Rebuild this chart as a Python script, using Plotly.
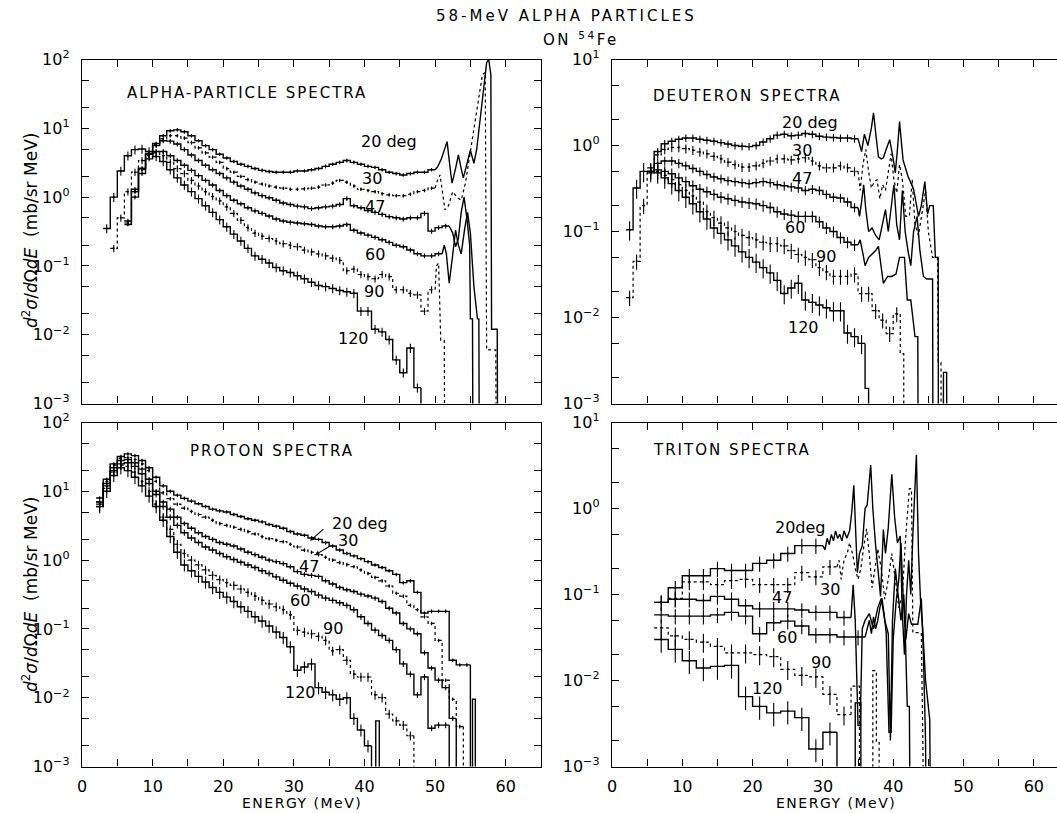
import numpy as np
import plotly.graph_objects as go

# ------------------------------------------------------------------
# DATA  (values in mb/(sr MeV); histogram = first bin edge, bin width, values;
#        *_tail_e / *_tail_v = high-resolution part drawn as a line; 1e-5 = zero)
# ------------------------------------------------------------------
ANGLES = ["20", "30", "47", "60", "90", "120"]
DOTTED = ["30", "90"]
X_TICKS = [0, 10, 20, 30, 40, 50, 60]
Y_TICKS_LEFT = [1e-3, 1e-2, 1e-1, 1e0, 1e1, 1e2]
Y_TEXT_LEFT = ["10<sup>−3</sup>", "10<sup>−2</sup>", "10<sup>−1</sup>", "10<sup>0</sup>",
               "10<sup>1</sup>", "10<sup>2</sup>"]
Y_TICKS_RIGHT = [1e-3, 1e-2, 1e-1, 1e0, 1e1]
Y_TEXT_RIGHT = ["10<sup>−3</sup>", "10<sup>−2</sup>", "10<sup>−1</sup>", "10<sup>0</sup>",
                "10<sup>1</sup>"]

# ---- ALPHA-PARTICLE SPECTRA ----
alpha_20_e0, alpha_20_w = 6, 1
alpha_20 = [0.4, 1.2, 2.6, 4.3, 6.0, 7.8, 9.2, 9.5, 8.9, 7.8, 6.6, 5.6, 4.9, 4.2, 3.7, 3.3,
            3.0, 2.8, 2.6, 2.45, 2.35, 2.3, 2.3, 2.3, 2.4, 2.4, 2.5, 2.6, 2.8, 3.0, 3.2, 3.4,
            3.2, 3.0, 2.8, 2.7, 2.5, 2.3, 2.2, 2.1, 2.2, 2.3, 2.3, 2.5]
alpha_20_tail_e = [50.4, 50.9, 51.3, 51.7, 52.1, 52.4, 52.9, 53.3, 53.7, 54.0, 54.5, 55.0, 55.5,
                   55.9, 56.4, 56.9, 57.3, 57.6, 57.9, 58.0, 58.8, 58.9]
alpha_20_tail_v = [2.8, 3.6, 5.0, 6.4, 2.8, 1.6, 2.6, 4.1, 2.6, 1.9, 3.0, 4.8, 3.1,
                   5.0, 14, 45, 90, 100, 60, 0.012, 0.012, 1e-5]

alpha_30_e0, alpha_30_w = 6, 1
alpha_30 = [0.42, 1.2, 2.5, 4.0, 5.8, 7.0, 7.8, 7.8, 7.2, 6.2, 5.2, 4.4, 3.8, 3.2, 2.6, 2.3,
            2.0, 1.8, 1.65, 1.55, 1.45, 1.4, 1.35, 1.3, 1.3, 1.32, 1.35, 1.4, 1.5, 1.6, 1.75,
            1.65, 1.45, 1.3, 1.25, 1.2, 1.12, 1.08, 1.05, 1.05, 1.1, 1.2, 1.25, 1.35]
alpha_30_tail_e = [50.3, 50.7, 51.0, 51.4, 51.9, 52.5, 53.1, 53.7, 54.3, 54.9, 55.5, 56.1, 56.7,
                   57.1, 57.3, 57.6, 58.6, 58.7]
alpha_30_tail_v = [1.7, 2.1, 1.3, 0.65, 0.75, 1.2, 1.0, 0.9, 1.6, 4.0, 10, 25, 60,
                   65, 0.006, 0.006, 0.006, 1e-5]

alpha_47_e0, alpha_47_w = 6, 1
alpha_47 = [0.45, 1.3, 2.6, 4.2, 5.6, 6.6, 6.5, 5.9, 4.9, 4.1, 3.4, 2.9, 2.5, 2.2, 1.9, 1.65,
            1.45, 1.3, 1.15, 1.05, 0.98, 0.9, 0.82, 0.78, 0.74, 0.72, 0.68, 0.7, 0.72, 0.74,
            0.78, 0.95, 0.75, 0.7, 0.64, 0.6, 0.56, 0.52, 0.5, 0.48, 0.5, 0.5, 0.58, 0.32,
            0.36, 0.38]
alpha_47_tail_e = [52.5, 52.9, 53.3, 53.7, 54.1, 54.5, 54.9, 55.0, 55.3, 55.4]
alpha_47_tail_v = [0.3, 0.19, 0.25, 0.6, 1.0, 0.5, 0.2, 0.017, 0.017, 1e-5]

alpha_60_e0, alpha_60_w = 7, 1
alpha_60 = [1.0, 2.2, 3.6, 4.6, 4.6, 4.0, 3.4, 2.9, 2.45, 2.05, 1.75, 1.5, 1.25, 1.05, 0.9,
            0.8, 0.7, 0.63, 0.58, 0.53, 0.48, 0.45, 0.43, 0.42, 0.41, 0.4, 0.38, 0.37, 0.37,
            0.38, 0.4, 0.33, 0.3, 0.28, 0.26, 0.24, 0.22, 0.2, 0.19, 0.17, 0.15, 0.14, 0.14,
            0.15]
alpha_60_tail_e = [51.3, 51.6, 52.0, 52.4, 52.9, 53.3, 53.7, 54.2, 54.6, 55.0, 55.5, 56.0,
                   56.2, 56.3]
alpha_60_tail_v = [0.2, 0.15, 0.056, 0.12, 0.33, 0.2, 0.15, 0.35, 0.6, 0.3, 0.05, 0.017,
                   0.017, 1e-5]

alpha_90_e0, alpha_90_w = 4, 1
alpha_90 = [0.18, 0.5, 1.2, 2.3, 3.4, 4.2, 4.4, 4.0, 3.2, 2.6, 2.2, 1.75, 1.45, 1.2, 1.02,
            0.88, 0.72, 0.58, 0.46, 0.36, 0.3, 0.27, 0.25, 0.23, 0.21, 0.2, 0.19, 0.17, 0.16,
            0.15, 0.14, 0.13, 0.12, 0.085, 0.09, 0.075, 0.07, 0.065, 0.075, 0.07, 0.045,
            0.045, 0.04, 0.038, 0.022, 0.045]
alpha_90_tail_e = [50.2, 50.5, 50.8, 51.3, 51.4]
alpha_90_tail_v = [0.1, 0.11, 0.0083, 0.0083, 1e-5]

alpha_120_e0, alpha_120_w = 3, 1
alpha_120 = [0.35, 1.0, 2.4, 4.0, 4.9, 5.0, 4.6, 3.9, 3.3, 2.5, 1.9, 1.5, 1.2, 0.95, 0.75,
             0.6, 0.47, 0.37, 0.29, 0.23, 0.18, 0.14, 0.125, 0.11, 0.095, 0.085, 0.08, 0.072,
             0.065, 0.058, 0.052, 0.05, 0.047, 0.044, 0.042, 0.04, 0.022, 0.022, 0.012,
             0.011, 0.0085, 0.0043, 0.0028, 0.0064, 0.0017]
alpha_120_tail_e = []
alpha_120_tail_v = []

# ---- DEUTERON SPECTRA ----
deut_20_e0, deut_20_w = 5, 1
deut_20 = [0.55, 0.85, 1.05, 1.12, 1.18, 1.22, 1.22, 1.18, 1.15, 1.12, 1.08, 1.04, 1.0, 0.98,
           0.97, 1.0, 1.1, 1.2, 1.32, 1.35, 1.3, 1.32, 1.38, 1.35, 1.28, 1.25, 1.24, 1.22,
           1.22, 1.2]
deut_20_tail_e = [35.5, 35.9, 36.4, 36.9, 37.2, 37.6, 37.9, 38.3, 38.6, 39.0, 39.5, 40.0, 40.3,
                  40.6, 40.9, 41.4, 42.1, 42.9, 43.6, 44.0, 44.5, 44.9, 45.2, 45.7, 46.0, 46.4,
                  46.45, 47.1, 47.15, 47.6, 47.65]
deut_20_tail_v = [0.85, 1.35, 1.0, 1.6, 2.4, 1.2, 0.74, 0.7, 0.72, 0.9, 1.17, 0.7, 0.48,
                  0.9, 1.9, 0.68, 0.44, 0.31, 0.15, 0.2, 0.38, 0.16, 0.2, 0.2, 0.05, 0.05,
                  1e-5, 1e-5, 0.0023, 0.0023, 1e-5]

deut_30_e0, deut_30_w = 5, 1
deut_30 = [0.5, 0.78, 0.9, 0.95, 0.95, 0.92, 0.88, 0.84, 0.8, 0.75, 0.7, 0.64, 0.6, 0.56,
           0.56, 0.58, 0.62, 0.66, 0.7, 0.7, 0.68, 0.7, 0.72, 0.66, 0.58, 0.55, 0.55, 0.58,
           0.55, 0.5]
deut_30_tail_e = [35.3, 35.7, 36.1, 36.5, 36.9, 37.3, 37.7, 38.1, 38.5, 38.9, 39.3, 39.7, 40.1,
                  40.5, 40.9, 41.3, 41.8, 42.3, 42.7, 43.1, 43.6, 44.2, 44.6, 45.0, 45.6, 46.3,
                  46.4, 46.8, 46.85]
deut_30_tail_v = [0.3, 0.6, 0.9, 0.5, 0.32, 0.38, 0.4, 0.24, 0.35, 0.3, 0.5, 0.8, 0.4,
                  0.28, 0.6, 0.4, 0.15, 0.15, 0.4, 0.12, 0.09, 0.2, 0.3, 0.1, 0.05, 0.05,
                  0.003, 0.003, 1e-5]

deut_47_e0, deut_47_w = 5, 1
deut_47 = [0.5, 0.62, 0.66, 0.66, 0.62, 0.58, 0.54, 0.5, 0.46, 0.43, 0.41, 0.39, 0.38, 0.37,
           0.36, 0.37, 0.38, 0.37, 0.35, 0.34, 0.33, 0.32, 0.3, 0.31, 0.3, 0.27, 0.25, 0.245,
           0.22, 0.19]
deut_47_tail_e = [35.2, 35.5, 35.8, 36.1, 36.5, 37.0, 37.5, 38.0, 38.5, 38.9, 39.3, 39.7, 40.1,
                  40.5, 40.9, 41.3, 41.7, 42.1, 42.5, 42.9, 43.4, 43.8, 44.3, 44.8, 45.2, 45.6,
                  45.7]
deut_47_tail_v = [0.15, 0.22, 0.35, 0.18, 0.1, 0.11, 0.09, 0.08, 0.12, 0.18, 0.1, 0.2, 0.35,
                  0.12, 0.08, 0.3, 0.1, 0.06, 0.04, 0.1, 0.15, 0.06, 0.03, 0.028, 0.028, 0.028,
                  1e-5]

deut_60_e0, deut_60_w = 5, 1
deut_60 = [0.48, 0.52, 0.5, 0.47, 0.42, 0.38, 0.34, 0.31, 0.29, 0.27, 0.25, 0.24, 0.23, 0.22,
           0.215, 0.21, 0.2, 0.19, 0.17, 0.16, 0.155, 0.15, 0.15, 0.15, 0.13, 0.11, 0.1, 0.085,
           0.075, 0.07]
deut_60_tail_e = [35.3, 35.7, 36.0, 36.5, 37.0, 37.5, 37.9, 38.3, 38.6, 39.2, 39.8, 40.4, 40.9,
                  41.6, 42.0, 42.5, 43.1, 43.5, 43.6]
deut_60_tail_v = [0.08, 0.055, 0.04, 0.05, 0.055, 0.06, 0.067, 0.04, 0.025, 0.03, 0.03, 0.032,
                  0.05, 0.05, 0.016, 0.016, 0.006, 0.006, 1e-5]

deut_90_e0, deut_90_w = 2, 1
deut_90 = [0.017, 0.045, 0.2, 0.5, 0.5, 0.45, 0.4, 0.35, 0.3, 0.26, 0.22, 0.17, 0.145, 0.125,
           0.11, 0.1, 0.09, 0.085, 0.08, 0.075, 0.072, 0.072, 0.068, 0.06, 0.054, 0.05, 0.047,
           0.038, 0.034, 0.03, 0.03, 0.03, 0.032, 0.019, 0.019, 0.012, 0.0093, 0.0065, 0.011]
deut_90_tail_e = [41.0, 41.5, 41.5]
deut_90_tail_v = [0.0038, 0.0038, 1e-5]

deut_120_e0, deut_120_w = 2, 1
deut_120 = [0.105, 0.32, 0.5, 0.5, 0.48, 0.42, 0.36, 0.3, 0.25, 0.21, 0.17, 0.14, 0.11, 0.095,
            0.08, 0.068, 0.058, 0.05, 0.044, 0.038, 0.033, 0.027, 0.019, 0.022, 0.025, 0.016,
            0.015, 0.014, 0.013, 0.012, 0.012, 0.0066, 0.006, 0.005]
deut_120_tail_e = [36.0, 36.5, 36.5]
deut_120_tail_v = [0.0015, 0.0015, 1e-5]

# ---- PROTON SPECTRA ----
prot_20_e0, prot_20_w = 2, 1
prot_20 = [8, 15, 25, 32, 35, 33, 28, 22, 16, 12, 10, 8.8, 7.9, 7.2, 6.6, 6.0, 5.5, 5.2, 5.0,
           4.6, 4.3, 4.0, 3.8, 3.6, 3.3, 3.1, 2.9, 2.6, 2.4, 2.3, 2.1, 2.0, 1.8, 1.6, 1.4, 1.25,
           1.15, 1.05, 0.95, 0.85, 0.78, 0.7, 0.62, 0.47, 0.5, 0.34, 0.17, 0.18, 0.18, 0.18,
           0.035, 0.03, 0.03]
prot_20_tail_e = [55.0, 55.3, 55.3, 55.7, 55.7]
prot_20_tail_v = [1e-5, 1e-5, 0.0095, 0.0095, 1e-5]

prot_30_e0, prot_30_w = 2, 1
prot_30 = [7, 14, 24, 30, 31, 29, 25, 20, 14, 9.5, 7.8, 6.5, 5.7, 5.1, 4.6, 4.2, 3.8, 3.4, 3.2,
           3.0, 2.8, 2.6, 2.4, 2.2, 2.05, 1.95, 1.85, 1.7, 1.55, 1.4, 1.3, 1.2, 1.1, 1.0, 0.92,
           0.86, 0.8, 0.72, 0.64, 0.56, 0.5, 0.42, 0.33, 0.3, 0.22, 0.19, 0.15, 0.12, 0.068,
           0.018, 0.0095, 0.0038]
prot_30_tail_e = []
prot_30_tail_v = []

prot_47_e0, prot_47_w = 2, 1
prot_47 = [7, 13, 22, 28, 29, 26, 21, 15, 10, 7, 5.5, 4.2, 3.4, 2.9, 2.5, 2.2, 2.0, 1.8, 1.7,
           1.6, 1.45, 1.3, 1.2, 1.1, 1.0, 0.95, 0.89, 0.8, 0.68, 0.62, 0.6, 0.58, 0.5, 0.45,
           0.4, 0.37, 0.35, 0.32, 0.3, 0.28, 0.25, 0.2, 0.17, 0.12, 0.1, 0.085, 0.045, 0.027,
           0.018, 0.014, 0.005]
prot_47_tail_e = []
prot_47_tail_v = []

prot_60_e0, prot_60_w = 2, 1
prot_60 = [6.5, 12, 20, 25, 26, 23, 18, 13, 9, 6, 4.2, 3.2, 2.5, 2.1, 1.8, 1.55, 1.4, 1.25,
           1.12, 1.02, 0.93, 0.85, 0.78, 0.7, 0.64, 0.57, 0.51, 0.46, 0.42, 0.38, 0.35, 0.31,
           0.28, 0.26, 0.24, 0.22, 0.19, 0.15, 0.12, 0.096, 0.08, 0.068, 0.05, 0.031, 0.022,
           0.011, 0.02, 0.0036, 0.004, 0.004]
prot_60_tail_e = []
prot_60_tail_v = []

prot_90_e0, prot_90_w = 2, 1
prot_90 = [6, 11, 19, 24, 23, 19, 14, 10, 6.5, 4.2, 2.8, 1.7, 1.25, 1.0, 0.85, 0.72, 0.6, 0.52,
           0.47, 0.43, 0.38, 0.34, 0.3, 0.26, 0.23, 0.21, 0.19, 0.16, 0.095, 0.09, 0.085,
           0.078, 0.068, 0.048, 0.05, 0.035, 0.022, 0.02, 0.02, 0.011, 0.01, 0.0058, 0.0046,
           0.004, 0.0028]
prot_90_tail_e = []
prot_90_tail_v = []

prot_120_e0, prot_120_w = 2, 1
prot_120 = [6, 10, 17, 22, 20, 16, 12, 8.5, 6, 3.8, 2.2, 1.3, 0.85, 0.7, 0.58, 0.48, 0.4, 0.34,
            0.29, 0.25, 0.21, 0.18, 0.15, 0.13, 0.11, 0.09, 0.075, 0.055, 0.025, 0.028, 0.031,
            0.014, 0.012, 0.011, 0.0095, 0.01, 0.005, 0.0034, 0.002]
prot_120_tail_e = [41.0, 41.6, 41.6, 42.1, 42.1]
prot_120_tail_v = [1e-5, 1e-5, 0.0046, 0.0046, 1e-5]

# ---- TRITON SPECTRA ----
trit_20_e0, trit_20_w = 6, 2
trit_20 = [0.081, 0.12, 0.165, 0.165, 0.2, 0.19, 0.19, 0.23, 0.25, 0.3, 0.37, 0.37]
trit_20_tail_e = [30.3, 30.6, 30.9, 31.2, 31.5, 31.8, 32.1, 32.4, 32.7, 33.0, 33.4, 33.8, 34.1,
                  34.4, 34.7, 34.9, 35.2, 35.6, 36.0, 36.3, 36.8, 37.1, 37.5, 37.8, 38.2, 38.6,
                  38.9, 39.3, 39.8, 40.2, 40.6, 41.0, 41.3, 41.6, 41.9, 42.2, 42.5, 42.8, 43.3,
                  43.6, 43.9, 44.2, 44.6, 45.2, 45.4]
trit_20_tail_v = [0.33, 0.45, 0.38, 0.5, 0.42, 0.55, 0.45, 0.5, 0.42, 0.55, 0.45, 0.55, 0.9,
                  1.86, 0.5, 0.18, 0.3, 0.37, 1.0, 1.1, 3.2, 1.0, 0.37, 0.2, 0.095, 0.57,
                  0.3, 0.6, 2.5, 0.8, 0.4, 0.48, 0.06, 0.02, 0.1, 0.25, 0.1, 0.5, 4.2,
                  0.3, 0.08, 0.04, 0.01, 0.0035, 1e-5]

trit_30_e0, trit_30_w = 8, 2
trit_30 = [0.09, 0.14, 0.14, 0.13, 0.145, 0.15, 0.13, 0.13, 0.13, 0.18, 0.16, 0.21]
trit_30_tail_e = [32.3, 32.6, 33.0, 33.5, 33.8, 34.2, 34.6, 35.0, 35.4, 35.8, 36.2, 36.6, 37.0,
                  37.4, 37.8, 38.3, 38.8, 39.3, 39.8, 40.3, 40.8, 41.3, 41.8, 42.3, 42.6, 42.8,
                  44.0, 44.2, 44.5]
trit_30_tail_v = [0.25, 0.15, 0.25, 0.31, 0.4, 0.3, 0.2, 0.15, 0.2, 0.35, 0.58, 0.3, 0.12,
                  0.2, 0.34, 0.2, 0.088, 0.15, 0.3, 0.15, 0.07, 0.1, 0.5, 1.7, 1.7, 0.036,
                  0.036, 0.0025, 1e-5]

trit_47_e0, trit_47_w = 6, 2
trit_47 = [0.081, 0.088, 0.088, 0.085, 0.095, 0.088, 0.074, 0.068, 0.068, 0.068, 0.066, 0.062,
           0.062, 0.054]
trit_47_tail_e = [34.3, 34.6, 35.0, 35.3, 35.6, 36.0, 36.6, 37.2, 37.8, 38.3, 38.8, 39.3, 39.6,
                  39.9, 40.3, 40.7, 41.1, 41.5, 41.8, 42.2, 42.6, 43.0, 43.5, 44.0, 44.3, 44.6,
                  44.8]
trit_47_tail_v = [0.13, 0.05, 0.003, 0.003, 0.04, 0.05, 0.06, 0.04, 0.07, 0.09, 0.05, 0.035,
                  0.002, 0.05, 0.2, 0.1, 0.05, 0.1, 0.03, 0.06, 0.045, 0.045, 0.045, 0.09,
                  0.02, 0.002, 1e-5]

trit_60_e0, trit_60_w = 6, 2
trit_60 = [0.058, 0.056, 0.056, 0.056, 0.058, 0.062, 0.056, 0.035, 0.047, 0.049, 0.043, 0.034,
           0.034, 0.032, 0.032]
trit_60_tail_e = [36.3, 36.6, 36.9, 37.2, 37.5, 37.8, 38.1, 38.4, 38.7, 39.0, 39.4, 39.7, 40.0,
                  40.4, 40.8, 41.1, 41.4, 41.7, 42.0, 42.3, 42.5]
trit_60_tail_v = [0.04, 0.05, 0.035, 0.055, 0.04, 0.05, 0.07, 0.09, 0.06, 0.036, 0.0025,
                  0.0025, 0.03, 0.08, 0.15, 0.4, 0.1, 0.04, 0.005, 0.005, 1e-5]

trit_90_e0, trit_90_w = 6, 2
trit_90 = [0.041, 0.033, 0.03, 0.028, 0.025, 0.021, 0.021, 0.02, 0.019, 0.0135, 0.0115, 0.011,
           0.0069, 0.004]
trit_90_tail_e = [34.0, 35.2, 35.2, 37.1, 37.1, 37.6, 37.6, 38.0, 38.0]
trit_90_tail_v = [0.0086, 0.0086, 1e-5, 1e-5, 0.013, 0.013, 0.0019, 0.0019, 1e-5]

trit_120_e0, trit_120_w = 6, 2
trit_120 = [0.03, 0.023, 0.017, 0.014, 0.0146, 0.015, 0.0065, 0.005, 0.0042, 0.0044, 0.0037,
            0.0016, 0.0025]
trit_120_tail_e = [32.0, 34.6, 34.6, 35.4, 35.4]
trit_120_tail_v = [1e-5, 1e-5, 0.0055, 0.0055, 1e-5]

# error bar size (percent) per angle, per panel
alpha_err = [6, 6, 8, 8, 12, 15]
deut_err = [10, 12, 12, 15, 20, 25]
prot_err = [6, 6, 8, 10, 15, 20]
trit_err = [20, 20, 20, 20, 25, 30]

# ------------------------------------------------------------------
FONT = "DejaVu Sans"
INK = "black"
G = globals()
PANELS = [("alpha", "x", "y", alpha_err), ("deut", "x2", "y2", deut_err),
          ("prot", "x3", "y3", prot_err), ("trit", "x4", "y4", trit_err)]

fig = go.Figure()


def add_curve(prefix, ang, xa, ya, err):
    e0 = G[f"{prefix}_{ang}_e0"]
    w = G[f"{prefix}_{ang}_w"]
    vals = G[f"{prefix}_{ang}"]
    te = G[f"{prefix}_{ang}_tail_e"]
    tv = G[f"{prefix}_{ang}_tail_v"]
    dash = "dot" if ang in DOTTED else "solid"
    lw = 1.2 if ang in DOTTED else 1.4
    edges = e0 + w * np.arange(len(vals) + 1)
    common = dict(xaxis=xa, yaxis=ya, hoverinfo="skip", showlegend=False)
    fig.add_trace(go.Scatter(x=edges, y=list(vals) + [vals[-1]], mode="lines",
                             line=dict(shape="hv", color=INK, width=lw, dash=dash), **common))
    if te:
        tx, ty = [edges[-1]] + list(te), [vals[-1]] + list(tv)
    else:
        tx, ty = [edges[-1], edges[-1]], [vals[-1], 1e-5]
    fig.add_trace(go.Scatter(x=tx, y=ty, mode="lines",
                             line=dict(color=INK, width=lw, dash=dash), **common))
    centers = edges[:-1] + w / 2.0
    fig.add_trace(go.Scatter(x=centers, y=vals, mode="markers",
                             marker=dict(size=2, color=INK),
                             error_y=dict(type="percent", value=err, width=0, thickness=1.1,
                                          color=INK), **common))


for prefix, xa, ya, errs in PANELS:
    for i, ang in enumerate(ANGLES):
        add_curve(prefix, ang, xa, ya, errs[i])

# ------------------------------------------------------------------
# axes
X_LEFT = [82 / 1057, 541 / 1057]
X_RIGHT = [612 / 1057, 1.0]
Y_TOP = [1 - 403.5 / 813, 1 - 59.5 / 813]
Y_BOT = [1 - 766.5 / 813, 1 - 422.5 / 813]
tickfont = dict(family=FONT, size=16, color=INK)


def minor_vals(lo, hi):
    out = []
    for k in range(lo, hi):
        out += [2 * 10.0 ** k, 5 * 10.0 ** k]
    return out


def xaxis(dom, anchor, rng, labels):
    return dict(domain=dom, anchor=anchor, range=rng, showline=True, linecolor=INK, linewidth=1.4,
                mirror="ticks", ticks="inside", ticklen=7, tickwidth=1.2, tickcolor=INK,
                tickmode="array", tickvals=X_TICKS, showticklabels=labels, tickfont=tickfont,
                ticklabelstandoff=5, showgrid=False, zeroline=False, automargin=False,
                minor=dict(ticks="inside", ticklen=7, tickwidth=1.2, tickcolor=INK, dtick=5,
                           tick0=0, showgrid=False))


def yaxis(dom, anchor, lo, hi, tv, tt, mirror):
    return dict(domain=dom, anchor=anchor, type="log", range=[lo, hi], showline=True,
                linecolor=INK, linewidth=1.4, mirror=mirror, ticks="inside", ticklen=7,
                tickwidth=1.2, tickcolor=INK, tickmode="array", tickvals=tv, ticktext=tt,
                tickfont=tickfont, ticklabelstandoff=8, showgrid=False, zeroline=False,
                automargin=False,
                minor=dict(ticks="inside", ticklen=7, tickwidth=1.2, tickcolor=INK,
                           tickmode="array", tickvals=minor_vals(lo, hi), showgrid=False))


fig.update_layout(
    width=1057, height=813, autosize=False,
    margin=dict(l=0, r=0, t=0, b=0, pad=0, autoexpand=False),
    paper_bgcolor="white", plot_bgcolor="white", hovermode=False,
    xaxis=xaxis(X_LEFT, "y", [0, 65], False),
    xaxis2=xaxis(X_RIGHT, "y2", [0, 63.3], False),
    xaxis3=xaxis(X_LEFT, "y3", [0, 65], True),
    xaxis4=xaxis(X_RIGHT, "y4", [0, 63.3], True),
    yaxis=yaxis(Y_TOP, "x", -3, 2, Y_TICKS_LEFT, Y_TEXT_LEFT, "ticks"),
    yaxis2=yaxis(Y_TOP, "x2", -3, 1, Y_TICKS_RIGHT, Y_TEXT_RIGHT, False),
    yaxis3=yaxis(Y_BOT, "x3", -3, 2, Y_TICKS_LEFT, Y_TEXT_LEFT, "ticks"),
    yaxis4=yaxis(Y_BOT, "x4", -3, 1, Y_TICKS_RIGHT, Y_TEXT_RIGHT, False),
)

# ------------------------------------------------------------------
# text
def sp(text, px):
    return f'<span style="letter-spacing:{px}px">{text}</span>'


ann = []


def label(xa, ya, text, x, y, size=15, anchor="center"):
    ann.append(dict(xref=xa, yref=ya, x=x, y=y, text=text, showarrow=False, xanchor=anchor,
                    yanchor="middle", font=dict(family=FONT, size=size, color=INK)))


label("x", "y", sp("ALPHA-PARTICLE SPECTRA", 2), 6.1, 1.52, 15, "left")
for t, x, y in [("20 deg", 43.5, 0.805), ("30", 41.1, 0.27), ("47", 41.5, -0.14),
                ("60", 41.5, -0.84), ("90", 41.4, -1.375), ("120", 38.4, -2.05)]:
    label("x", "y", t, x, y, 16)

label("x2", "y2", sp("DEUTERON SPECTRA", 2), 5.5, 0.58, 15, "left")
for t, x, y in [("20 deg", 28.2, 0.27), ("30", 27.0, -0.056), ("47", 27.0, -0.38),
                ("60", 26.1, -0.95), ("90", 30.4, -1.29), ("120", 27.3, -2.12)]:
    label("x2", "y2", t, x, y, 16)

label("x3", "y3", sp("PROTON SPECTRA", 2), 15.0, 1.58, 15, "left")
for t, x, y in [("20 deg", 39.4, 0.53), ("30", 37.6, 0.285), ("47", 32.1, -0.095),
                ("60", 30.9, -0.59), ("90", 35.5, -0.99), ("120", 30.9, -1.92)]:
    label("x3", "y3", t, x, y, 16)
for (tx, ty, hx, hy) in [(34.4, 0.47, 32.3, 0.28), (35.4, 0.22, 33.0, 0.075)]:
    ann.append(dict(xref="x3", yref="y3", axref="x3", ayref="y3", x=hx, y=hy, ax=tx, ay=ty,
                    text="", showarrow=True, arrowhead=2, arrowsize=0.8, arrowwidth=1.1,
                    arrowcolor=INK, standoff=0, startstandoff=0))

label("x4", "y4", sp("TRITON SPECTRA", 2), 5.5, 0.68, 15, "left")
for t, x, y in [("20deg", 26.8, -0.22), ("30", 31.0, -0.94), ("47", 24.2, -1.04),
                ("60", 24.9, -1.5), ("90", 29.8, -1.79), ("120", 22.1, -2.09)]:
    label("x4", "y4", t, x, y, 16)


# global texts (paper coordinates)
def ptext(text, x, y, size=15, angle=0):
    ann.append(dict(xref="paper", yref="paper", x=x, y=y, text=text, showarrow=False,
                    xanchor="center", yanchor="middle", textangle=angle,
                    font=dict(family=FONT, size=size, color=INK)))


ptext(sp("58-MeV ALPHA PARTICLES", 3), 566 / 1057, 1 - 16 / 813, 15)
ptext(sp("ON <sup>54</sup>Fe", 2.5), 581 / 1057, 1 - 39 / 813, 15)
YTITLE = "<i>d</i><sup>2</sup><i>σ</i>/<i>d</i>Ω<i>dE</i>  (mb/sr MeV)"
ptext(YTITLE, 30 / 1057, 1 - 231 / 813, 17, -90)
ptext(YTITLE, 30 / 1057, 1 - 595 / 813, 17, -90)
ptext(sp("ENERGY (MeV)", 1.5), 302 / 1057, 1 - 803 / 813, 14)
ptext(sp("ENERGY (MeV)", 1.5), 836 / 1057, 1 - 803 / 813, 14)

fig.update_layout(annotations=ann)
fig.write_html("out.html")
